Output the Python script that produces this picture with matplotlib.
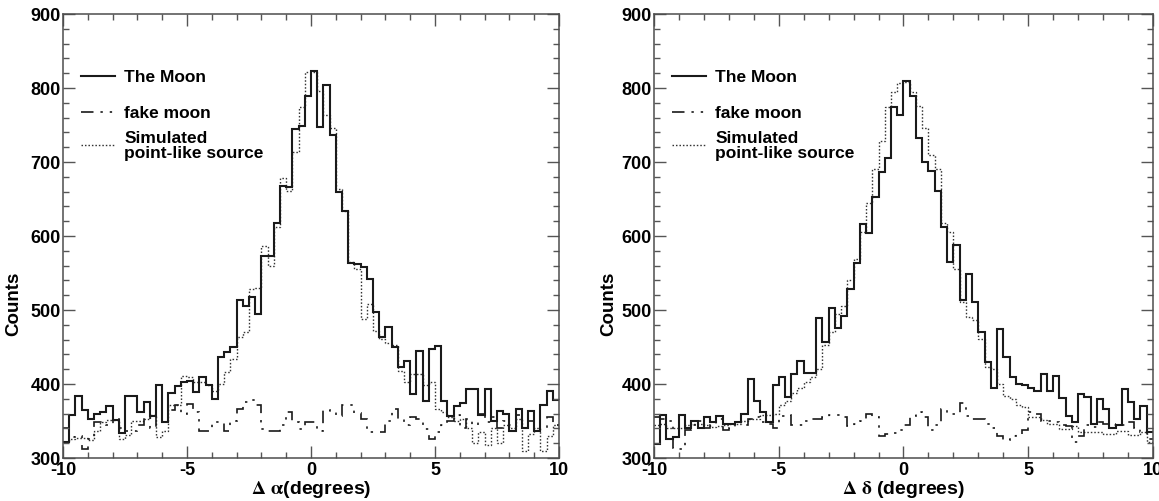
import numpy as np
import matplotlib
matplotlib.use("Agg")
import matplotlib.pyplot as plt

plt.rcParams['font.family'] = ['Liberation Sans', 'DejaVu Sans']
plt.rcParams['font.weight'] = 'bold'
plt.rcParams['mathtext.fontset'] = 'stix'
plt.rcParams['lines.scale_dashes'] = False
plt.rcParams['axes.unicode_minus'] = False

# 80 bins of 0.25 degree from -10 to 10
edges = np.linspace(-10, 10, 81)

# left panel: delta alpha
moon_ra = [321, 358, 384, 365, 352, 359, 362, 370, 351, 334,
           384, 384, 362, 375, 357, 399, 348, 388, 397, 403,
           404, 389, 409, 398, 380, 436, 443, 450, 514, 506,
           518, 495, 573, 573, 618, 668, 666, 744, 749, 789,
           823, 747, 804, 736, 660, 634, 564, 562, 558, 542,
           497, 463, 477, 450, 423, 431, 386, 445, 377, 447,
           451, 377, 357, 370, 374, 393, 393, 358, 393, 350,
           363, 360, 337, 366, 340, 364, 337, 372, 390, 378]
fake_ra = [340, 329, 330, 312, 325, 348, 348, 345, 352, 340,
           336, 336, 345, 355, 340, 360, 355, 365, 372, 360,
           373, 362, 336, 336, 348, 348, 336, 350, 366, 375,
           379, 372, 339, 336, 336, 345, 362, 348, 339, 348,
           348, 337, 365, 362, 357, 371, 371, 361, 353, 335,
           335, 335, 350, 366, 353, 344, 355, 353, 339, 326,
           335, 345, 350, 358, 340, 352, 345, 360, 348, 355,
           340, 350, 345, 358, 340, 350, 346, 340, 355, 345]
sim_ra = [322, 326, 327, 327, 324, 337, 348, 351, 351, 326,
          331, 350, 350, 352, 358, 328, 337, 371, 371, 411,
          409, 402, 402, 399, 390, 400, 416, 434, 463, 470,
          529, 530, 587, 560, 612, 679, 661, 713, 774, 822,
          822, 796, 763, 746, 663, 634, 565, 555, 488, 508,
          472, 461, 456, 452, 418, 402, 414, 414, 398, 402,
          366, 362, 355, 350, 352, 340, 320, 335, 318, 340,
          320, 345, 340, 352, 310, 333, 340, 310, 330, 345]

# right panel: delta delta
moon_dec = [319, 358, 326, 329, 358, 341, 350, 340, 355, 348,
            357, 346, 346, 348, 360, 407, 377, 362, 349, 398,
            409, 382, 414, 431, 415, 415, 489, 457, 503, 475,
            492, 528, 564, 616, 604, 653, 686, 706, 774, 763,
            809, 789, 733, 700, 688, 661, 612, 565, 588, 513,
            549, 511, 470, 430, 395, 474, 436, 409, 400, 399,
            395, 390, 413, 390, 411, 381, 357, 348, 386, 383,
            346, 380, 366, 341, 345, 393, 375, 353, 370, 335]
fake_dec = [355, 353, 350, 313, 312, 338, 345, 350, 340, 345,
            352, 338, 340, 348, 345, 352, 355, 348, 346, 340,
            357, 358, 345, 344, 350, 352, 352, 356, 358, 358,
            355, 343, 346, 350, 359, 355, 330, 332, 334, 338,
            345, 357, 362, 355, 338, 345, 366, 359, 360, 374,
            357, 352, 352, 346, 340, 330, 324, 330, 332, 338,
            362, 360, 350, 350, 348, 345, 343, 321, 330, 345,
            342, 348, 346, 344, 346, 345, 348, 340, 335, 325]
sim_dec = [345, 346, 340, 340, 341, 345, 346, 346, 344, 342,
           343, 345, 346, 346, 350, 352, 352, 358, 358, 359,
           371, 377, 388, 395, 402, 409, 420, 452, 470, 495,
           506, 540, 569, 605, 645, 691, 729, 774, 794, 807,
           808, 794, 776, 746, 709, 691, 618, 605, 555, 511,
           490, 486, 461, 423, 420, 400, 384, 380, 371, 369,
           355, 355, 351, 346, 346, 339, 339, 343, 335, 335,
           335, 335, 333, 333, 336, 336, 331, 331, 335, 322]

labels = ['The Moon', 'fake moon', 'Simulated\npoint-like source']
xlabels = [r'$\Delta\ \mathrm{\alpha}$(degrees)',
           r'$\Delta\ \mathrm{\delta}$ (degrees)']

line_col = '#1a1a1a'
solid_st = dict(color=line_col, lw=1.5)
fake_st = dict(color=line_col, lw=1.2, linestyle=(0, (9, 5, 1.7, 5, 1.7, 5)))
sim_st = dict(color='#333333', lw=1.0, linestyle=(0, (1.1, 1.4)))

fig = plt.figure(figsize=(11.59, 5.02), dpi=100)
ax1 = fig.add_axes([0.0544, 0.0857, 0.428, 0.8845])
ax2 = fig.add_axes([0.5643, 0.0857, 0.4305, 0.8845])

panels = [(ax1, moon_ra, fake_ra, sim_ra, -0.083),
          (ax2, moon_dec, fake_dec, sim_dec, -0.074)]

for i, (ax, moon, fake, sim, ylx) in enumerate(panels):
    ax.stairs(sim, edges, baseline=None, **sim_st)
    ax.stairs(fake, edges, baseline=None, **fake_st)
    ax.stairs(moon, edges, baseline=None, **solid_st)

    ax.set_xlim(-10, 10)
    ax.set_ylim(300, 900)
    ax.set_xticks([-10, -5, 0, 5, 10])
    ax.set_xticks(np.arange(-10, 11, 1), minor=True)
    ax.set_yticks(np.arange(300, 901, 100))
    ax.set_yticks(np.arange(300, 901, 20), minor=True)
    ax.tick_params(which='both', direction='in', top=True, right=True,
                   color='#555555', width=1.0, labelsize=13)
    ax.tick_params(which='major', length=8.5)
    ax.tick_params(which='minor', length=4.5)
    ax.tick_params(axis='x', pad=2)
    ax.tick_params(axis='y', pad=1.5)
    for sp in ax.spines.values():
        sp.set_color('#4d4d4d')
        sp.set_linewidth(1.1)

    ax.set_xlabel(xlabels[i], fontsize=14, fontweight='bold', labelpad=0)
    ax.set_ylabel('Counts', fontsize=13.5, fontweight='bold')
    ax.yaxis.set_label_coords(ylx, 0.35)

    # legend drawn by hand, ROOT style
    tr = ax.transAxes
    ax.plot([0.037, 0.104], [0.860, 0.860], transform=tr, **solid_st)
    ax.plot([0.037, 0.104], [0.779, 0.779], transform=tr, **fake_st)
    ax.plot([0.037, 0.104], [0.705, 0.705], transform=tr, **sim_st)
    ax.text(0.123, 0.860, labels[0], transform=tr, va='center', fontsize=12.5)
    ax.text(0.123, 0.779, labels[1], transform=tr, va='center', fontsize=12.5)
    ax.text(0.123, 0.705, labels[2], transform=tr, va='center', fontsize=12.5,
            linespacing=1.0)

fig.savefig('out.png', dpi=100)
